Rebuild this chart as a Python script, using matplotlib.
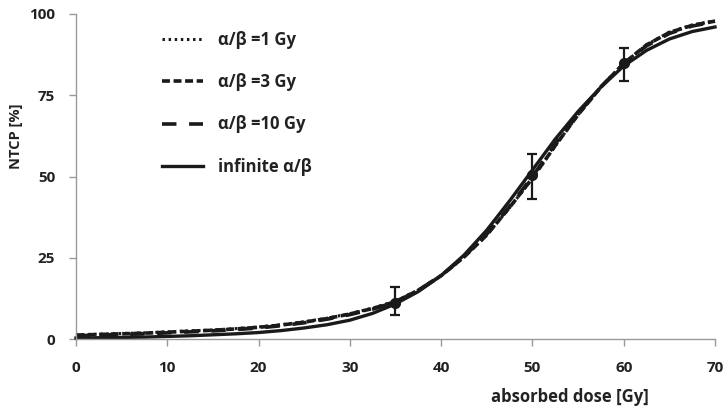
"""NTCP vs absorbed dose for several alpha/beta ratios."""
import matplotlib
matplotlib.use("Agg")
import matplotlib.pyplot as plt

plt.rcParams["font.family"] = ["Open Sans", "DejaVu Sans"]

dose = [0, 2.5, 5, 7.5, 10, 12.5, 15, 17.5, 20, 22.5, 25, 27.5, 30, 32.5, 35,
        37.5, 40, 42.5, 45, 47.5, 50, 52.5, 55, 57.5, 60, 62.5, 65, 67.5, 70]
ntcp_ab1 = [1.3, 1.5, 1.7, 1.9, 2.2, 2.5, 2.8, 3.2, 3.7, 4.4, 5.3, 6.4, 7.8, 9.5,
            11.6, 15.1, 19.6, 25.2, 32.0, 40.4, 49.4, 59.4, 69.0, 77.5, 84.8,
            90.5, 94.4, 96.6, 97.9]
ntcp_ab3 = [1.2, 1.4, 1.6, 1.8, 2.1, 2.4, 2.7, 3.1, 3.6, 4.3, 5.2, 6.3, 7.7, 9.4,
            11.5, 15.0, 19.5, 25.2, 32.0, 40.5, 49.5, 59.5, 69.0, 77.5, 84.8,
            90.5, 94.3, 96.5, 97.8]
ntcp_ab10 = [1.0, 1.2, 1.4, 1.6, 1.9, 2.2, 2.5, 2.9, 3.4, 4.1, 5.0, 6.1, 7.5, 9.2,
             11.4, 15.0, 19.5, 25.3, 32.3, 40.8, 50.0, 60.0, 69.3, 77.6, 84.7,
             90.2, 94.0, 96.3, 97.6]
ntcp_inf = [0.3, 0.4, 0.5, 0.6, 0.8, 1.0, 1.3, 1.6, 2.0, 2.6, 3.4, 4.4, 5.8, 7.9,
            10.8, 14.6, 19.5, 25.8, 33.5, 42.5, 52.0, 61.5, 70.0, 77.5, 84.0,
            88.8, 92.3, 94.6, 96.0]

obs_dose = [35, 50, 60]
obs_ntcp = [11, 50.5, 85]
obs_err_low = [3.6, 7.5, 5.5]
obs_err_high = [5.1, 6.4, 4.4]

ink = "#1a1a1a"
fig = plt.figure(figsize=(7.27, 4.09), dpi=100, facecolor="white")
ax = fig.add_axes([0.1045, 0.1711, 0.879, 0.7947])

ax.plot(dose, ntcp_ab1, color=ink, linewidth=2.2, linestyle=(0, (0.8, 1.2)),
        label="α/β =1 Gy", clip_on=False)
ax.plot(dose, ntcp_ab3, color=ink, linewidth=2.6, linestyle=(0, (2.2, 1.0)),
        label="α/β =3 Gy", clip_on=False)
ax.plot(dose, ntcp_ab10, color=ink, linewidth=2.6, linestyle=(0, (4.0, 3.5)),
        label="α/β =10 Gy", clip_on=False)
ax.plot(dose, ntcp_inf, color=ink, linewidth=2.4, linestyle="-",
        label="infinite α/β", clip_on=False)

ax.errorbar(obs_dose, obs_ntcp, yerr=[obs_err_low, obs_err_high], fmt="o",
            color=ink, markersize=7, elinewidth=1.6, capsize=3.5, capthick=1.6,
            zorder=5)

ax.set_xlim(0, 70)
ax.set_ylim(0, 100)
ax.set_xticks(range(0, 71, 10))
ax.set_yticks([0, 25, 50, 75, 100])
for side in ("top", "right"):
    ax.spines[side].set_visible(False)
for side in ("left", "bottom"):
    ax.spines[side].set_color("#999999")
    ax.spines[side].set_linewidth(1.0)
ax.tick_params(axis="both", direction="out", length=5, width=1.0,
               color="#999999", labelcolor="#222222", labelsize=11)
ax.tick_params(axis="x", pad=11)
ax.tick_params(axis="y", pad=10)
for lbl in ax.get_xticklabels() + ax.get_yticklabels():
    lbl.set_fontweight("bold")

fig.text(0.022, 0.667, "NTCP [%]", rotation=90, ha="center", va="center",
         fontsize=10.5, fontweight="bold", color="#222222")
fig.text(0.784, 0.03, "absorbed dose [Gy]", ha="center", va="center",
         fontsize=12, fontweight="bold", color="#222222")

leg = ax.legend(loc="upper left", bbox_to_anchor=(0.223, 0.924),
                bbox_transform=fig.transFigure, frameon=False, borderpad=0,
                borderaxespad=0, handlelength=2.45, handletextpad=0.9,
                labelspacing=1.45, prop={"weight": "bold", "size": 12})
for txt in leg.get_texts():
    txt.set_color("#222222")

fig.savefig("out.png", dpi=100, facecolor="white")
